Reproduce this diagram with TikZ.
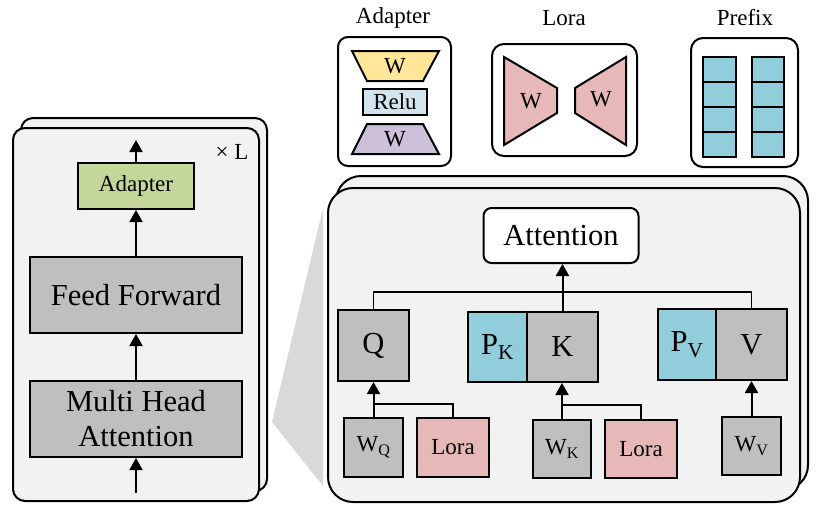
\documentclass[tikz,border=0pt]{standalone}
\usepackage{fontspec}
\setmainfont{Liberation Serif}
\usetikzlibrary{arrows.meta}
\definecolor{cardgray}{HTML}{F2F2F2}
\definecolor{boxgray}{HTML}{BFBFBF}
\definecolor{wedgegray}{HTML}{D9D9D9}
\definecolor{lorapink}{HTML}{E6B8B7}
\definecolor{prefixblue}{HTML}{92CDDC}
\definecolor{adgreen}{HTML}{C4D79B}
\definecolor{adyellow}{HTML}{FFE699}
\definecolor{adpurple}{HTML}{CCC0DA}
\definecolor{relublue}{HTML}{D2E5EE}
\newcommand{\fbig}{\fontsize{30.5}{35}\selectfont}
\newcommand{\fmid}{\fontsize{23}{27}\selectfont}
\tikzset{
  card/.style={draw, line width=2pt, fill=cardgray},
  panel/.style={draw, line width=2pt, fill=white},
  gbox/.style={draw, line width=2pt, fill=boxgray, inner sep=0pt, font=\fbig},
  wbox/.style={draw, line width=2pt, fill=boxgray, inner sep=0pt, font=\fmid},
  lbox/.style={draw, line width=2pt, fill=lorapink, inner sep=0pt, font=\fmid},
  pbox/.style={draw, line width=2pt, fill=prefixblue, inner sep=0pt, font=\fbig},
  shp/.style={draw, line width=2pt},
  arr/.style={line width=2pt, -{Triangle[length=12pt,width=13pt]}},
  thinln/.style={line width=1.5pt},
  ttl/.style={font=\fmid, inner sep=0pt}
}
\begin{document}
\begin{tikzpicture}[x=1pt,y=-1pt]
\useasboundingbox (0,0) rectangle (816,507);

% ---------- left stack ----------
\draw[card, rounded corners=12pt] (21,118) rectangle (267,491);
\draw[card, rounded corners=12pt] (13,128) rectangle (259,501);

\node[draw, line width=2pt, fill=adgreen, minimum width=116pt, minimum height=46pt, inner sep=0pt, font=\fmid] (adL) at (136,186) {Adapter};
\node[gbox, minimum width=212pt, minimum height=76pt] (ff) at (136,295) {Feed Forward};
\node[gbox, minimum width=212pt, minimum height=76pt, align=center] (mha) at (136,419) {Multi Head\\Attention};
\coordinate (inL) at (136,493);
\coordinate (outL) at (136,140);
\node[ttl] (times) at (232,152) {× L};

\draw[arr] (inL) -- (mha.south);
\draw[arr] (mha.north) -- (ff.south);
\draw[arr] (ff.north) -- (adL.south);
\draw[arr] (adL.north) -- (outL);

% ---------- wedge ----------
\fill[wedgegray] (272,422) -- (323,208) -- (323,486) -- cycle;

% ---------- right stack ----------
\draw[card, rounded corners=25pt] (336,176) rectangle (808,490);
\draw[card, rounded corners=25pt] (328,188) rectangle (800,502);

\node[draw, line width=2pt, fill=white, rounded corners=8pt, minimum width=155pt, minimum height=55pt, inner sep=0pt, font=\fbig] (attn) at (561,235.5) {Attention};

\node[gbox, minimum width=71pt, minimum height=71pt] (Q) at (373.5,345.5) {Q};
\node[pbox, minimum width=59pt, minimum height=70pt] (PK) at (497.5,347) {P\textsubscript{K}};
\node[gbox, minimum width=71pt, minimum height=70pt] (K) at (562.5,347) {K};
\node[pbox, minimum width=58pt, minimum height=71pt] (PV) at (687,344.5) {P\textsubscript{V}};
\node[gbox, minimum width=71pt, minimum height=71pt] (V) at (751.5,344.5) {V};

\node[wbox, minimum width=59pt, minimum height=59pt] (WQ) at (373.5,447.5) {W\textsubscript{Q}};
\node[lbox, minimum width=72pt, minimum height=59pt] (L1) at (453,447.5) {Lora};
\node[wbox, minimum width=58pt, minimum height=58pt] (WK) at (562,449) {W\textsubscript{K}};
\node[lbox, minimum width=72pt, minimum height=58pt] (L2) at (641,449) {Lora};
\node[wbox, minimum width=59pt, minimum height=58pt] (WV) at (751.5,446) {W\textsubscript{V}};

\coordinate (bar) at (560,292);
\coordinate (qbr) at (373,404);
\coordinate (kbr) at (562,405);

\draw[thinln] (Q.north) -- (Q.north |- bar) -- (V.north |- bar) -- (V.north);
\draw[arr] (K.north) -- (K.north |- attn.south);

\draw[thinln] (L1.north) -- (L1.north |- qbr) -- (WQ.north |- qbr);
\draw[arr] (WQ.north) -- (WQ.north |- Q.south);
\draw[thinln] (L2.north) -- (L2.north |- kbr) -- (WK.north |- kbr);
\draw[arr] (WK.north) -- (WK.north |- K.south);
\draw[arr] (WV.north) -- (WV.north |- V.south);

% ---------- top panels ----------
\node[ttl] (tA) at (393,18) {Adapter};
\draw[panel, rounded corners=10pt] (338,37) rectangle (451,166);
\draw[shp, fill=adyellow] (352,51) -- (439,51) -- (423,81) -- (367,81) -- cycle;
\node[ttl] (w1) at (395,66) {W};
\node[draw, line width=2pt, fill=relublue, minimum width=64pt, minimum height=26pt, inner sep=0pt, font=\fmid] (relu) at (395,102) {Relu};
\draw[shp, fill=adpurple] (367,124) -- (423,124) -- (439,154) -- (352,154) -- cycle;
\node[ttl] (w2) at (395,139) {W};

\node[ttl] (tL) at (564,18) {Lora};
\draw[panel, rounded corners=12pt] (492,44) rectangle (637,156);
\draw[shp, fill=lorapink] (504,57) -- (557,88) -- (557,113) -- (504,145) -- cycle;
\node[ttl] (w3) at (531,101) {W};
\draw[shp, fill=lorapink] (575,88) -- (626,57) -- (626,145) -- (575,113) -- cycle;
\node[ttl] (w4) at (601,99) {W};

\node[ttl] (tP) at (745,18) {Prefix};
\draw[panel, rounded corners=12pt] (691,38) rectangle (798,167);
\foreach \i in {0,1,2,3}{
  \draw[shp, fill=prefixblue] (703,57+25*\i) rectangle (736,82+25*\i);
  \draw[shp, fill=prefixblue] (752,57+25*\i) rectangle (784,82+25*\i);
}
\end{tikzpicture}
\end{document}
